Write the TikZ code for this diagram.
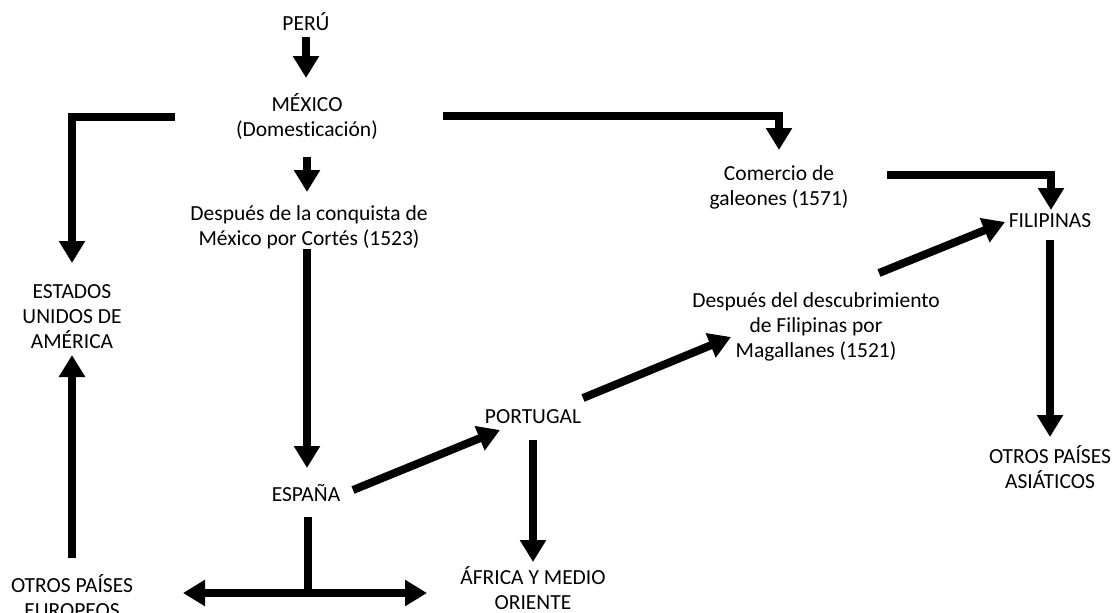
\documentclass[tikz,border=0pt]{standalone}
\usepackage{fontspec}
\setmainfont{Carlito}[Ligatures=NoCommon]
\usetikzlibrary{arrows.meta,calc}

\begin{document}
\begin{tikzpicture}[x=1pt,y=-1pt,
  lbl/.style={inner sep=0pt,outer sep=0pt,align=center,font=\fontsize{21.5}{25}\selectfont},
  flow/.style={draw=black,line width=8pt,line join=miter,-{Triangle[width=25pt,length=22pt]}},
  bar/.style={draw=black,line width=8pt}]
\path[use as bounding box] (0,0) rectangle (1114,613);
\path[fill=white,draw=none] (0,0) rectangle (1114,613);
% places
\node[lbl] (peru) at (306,22) {PERÚ};
\node[lbl] (mexico) at (307,117) {MÉXICO\\(Domesticación)};
\node[lbl] (conquista) at (309,227) {Después de la conquista de\\México por Cortés (1523)};
\node[lbl] (espana) at (306,493) {ESPAÑA};
\node[lbl] (eeuu) at (72,317) {ESTADOS\\UNIDOS DE\\AMÉRICA};
\node[lbl] (europa) at (72,596) {OTROS PAÍSES\\EUROPEOS};
\node[lbl] (portugal) at (533,417) {PORTUGAL};
\node[lbl] (africa) at (533,588) {ÁFRICA Y MEDIO\\ORIENTE};
\node[lbl] (magallanes) at (816,327) {Después del descubrimiento\\de Filipinas por\\Magallanes (1521)};
\node[lbl] (comercio) at (779,187) {Comercio de\\galeones (1571)};
\node[lbl] (filipinas) at (1050,221) {FILIPINAS};
\node[lbl] (asia) at (1050,467) {OTROS PAÍSES\\ASIÁTICOS};
% routes
\draw[flow] ($(peru)+(0,15)$) -- ($(mexico)+(-1,-39)$);
\draw[flow] ($(mexico)+(0,40)$) -- ($(conquista)+(-2,-35)$);
\draw[flow] ($(conquista)+(-2,22)$) -- ($(espana)+(1,-25)$);
\draw[flow] ($(mexico)+(-132,0)$) -| ($(eeuu)+(0,-54)$);
\draw[flow] ($(mexico)+(136,-1)$) -| ($(comercio)+(0,-37)$);
\draw[flow] ($(comercio)+(108,-12)$) -| ($(filipinas)+(1,-11)$);
\draw[flow] ($(magallanes)+(63,-54)$) -- ($(filipinas)+(-45,1)$);
\draw[flow] ($(portugal)+(50,-19)$) -- ($(magallanes)+(-85,10)$);
\draw[flow] ($(espana)+(47,-3)$) -- ($(portugal)+(-33,13)$);
\draw[flow] ($(portugal)+(0,23)$) -- ($(africa)+(0,-26)$);
\draw[flow] ($(filipinas)+(0,19)$) -- ($(asia)+(0,-30)$);
\draw[flow] ($(europa)+(0,-38)$) -- ($(eeuu)+(0,38)$);
\coordinate (split) at ($(espana)+(2,100)$);
\draw[bar] ($(espana)+(2,24)$) -- ($(split)+(0,4)$);
\draw[flow] (split) -- ($(europa)+(111,-3)$);
\draw[flow] (split) -- ($(africa)+(-106,5)$);
\end{tikzpicture}
\end{document}
